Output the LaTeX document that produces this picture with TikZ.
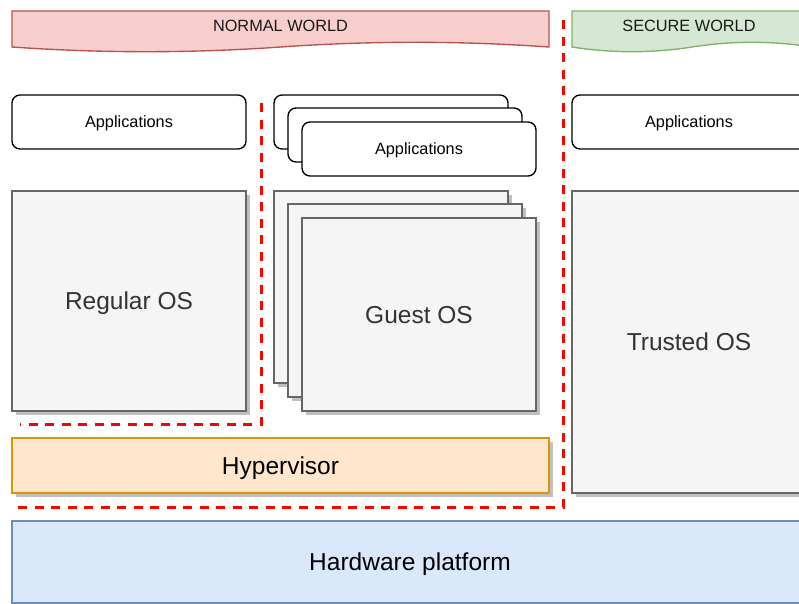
\documentclass[tikz,border=0pt]{standalone}
\usepackage{fontspec}
\setmainfont{Liberation Sans}
\usetikzlibrary{shadows}
\definecolor{redfill}{HTML}{F8CECC}
\definecolor{redline}{HTML}{B85450}
\definecolor{greenfill}{HTML}{D5E8D4}
\definecolor{greenline}{HTML}{82B366}
\definecolor{grayfill}{HTML}{F5F5F5}
\definecolor{grayline}{HTML}{666666}
\definecolor{grtext}{HTML}{333333}
\definecolor{hypfill}{HTML}{FFE6CC}
\definecolor{hypline}{HTML}{D79B00}
\definecolor{hwfill}{HTML}{DAE8FC}
\definecolor{hwline}{HTML}{6C8EBF}
\definecolor{dashred}{HTML}{FF0000}
\tikzset{
  base/.style={anchor=north west, outer sep=0pt, inner sep=0pt, line width=1.36pt},
  shad/.style={drop shadow={shadow xshift=4pt, shadow yshift=-4pt, opacity=0.25, fill=black}},
  appbox/.style={base, draw=black, fill=white, rounded corners=8pt},
  osbox/.style={base, shad, draw=grayline, fill=grayfill},
  hypbox/.style={base, shad, draw=hypline, fill=hypfill},
  hwbox/.style={base, draw=hwline, fill=hwfill},
  smalltext/.style={inner sep=0pt, text height=11.67pt, text depth=0pt,
     font=\fontsize{16.3}{19}\selectfont, text=black},
  bigtext/.style={inner sep=0pt, text height=17.54pt, text depth=0pt,
     font=\fontsize{24.5}{28}\selectfont, text=black},
  graytext/.style={bigtext, text=grtext},
  bannertext/.style={smalltext, text=black!90},
  boundary/.style={draw=dashred, line width=3pt, dash pattern=on 9pt off 7.5pt},
}
\begin{document}
\begin{tikzpicture}[x=1pt,y=-1pt]
\useasboundingbox (0,0) rectangle (799,603);
\fill[white] (0,0) rectangle (799,603);

% banners
\draw[line width=1.36pt, draw=redline, fill=redfill]
  (12,11) -- (549,11) -- (549,47)
  .. controls (459.5,40.73) and (370,40.73) .. (280.5,47)
  .. controls (191,53.27) and (101.5,53.27) .. (12,47) -- cycle;
\node[bannertext] (nw) at (280.5,26) {NORMAL WORLD};
\draw[line width=1.36pt, draw=greenline, fill=greenfill]
  (572,11) -- (812,11) -- (812,47)
  .. controls (772,40.73) and (732,40.73) .. (692,47)
  .. controls (652,53.27) and (612,53.27) .. (572,47) -- cycle;
\node[bannertext] (sw) at (689,26) {SECURE WORLD};

% hardware
\node[hwbox, minimum width=796pt, minimum height=82pt] (hw) at (12,521) {};
\node[bigtext] (hwt) at (410,562) {Hardware platform};

% left column
\node[appbox, minimum width=234pt, minimum height=54pt] (app1) at (12,95) {};
\node[smalltext] (app1t) at (129,122) {Applications};
\node[osbox, minimum width=234pt, minimum height=220pt] (regos) at (12,191) {};
\node[graytext] (regost) at (129,300.5) {Regular OS};

% stacked applications
\node[appbox, minimum width=234pt, minimum height=54pt] (app2c) at (274,95) {};
\node[appbox, minimum width=234pt, minimum height=54pt] (app2b) at (288,108) {};
\node[appbox, minimum width=234pt, minimum height=54pt] (app2a) at (302,122) {};
\node[smalltext] (app2t) at (419,149) {Applications};

% stacked guest OS
\node[osbox, minimum width=234pt, minimum height=192pt] (gosc) at (274,191) {};
\node[osbox, minimum width=234pt, minimum height=193pt] (gosb) at (288,204) {};
\node[osbox, minimum width=234pt, minimum height=193pt] (gosa) at (302,218) {};
\node[graytext] (gost) at (419,314.5) {Guest OS};

% hypervisor
\node[hypbox, minimum width=537pt, minimum height=55pt] (hyp) at (12,438) {};
\node[bigtext] (hypt) at (280.5,465.5) {Hypervisor};

% secure column
\node[appbox, minimum width=236pt, minimum height=54pt] (app3) at (572,95) {};
\node[smalltext] (app3t) at (689,122) {Applications};
\node[osbox, minimum width=236pt, minimum height=302pt] (tos) at (572,191) {};
\node[graytext] (tost) at (689,342) {Trusted OS};

% boundaries
\coordinate (ia) at (261,103);
\coordinate (ib) at (261,424);
\coordinate (ic) at (20,424);
\draw[boundary] (ia) -- (ib) -- (ic);
\coordinate (oa) at (563,20);
\coordinate (ob) at (563,507);
\coordinate (oc) at (17,507);
\draw[boundary] (oa) -- (ob) -- (oc);
\end{tikzpicture}
\end{document}
